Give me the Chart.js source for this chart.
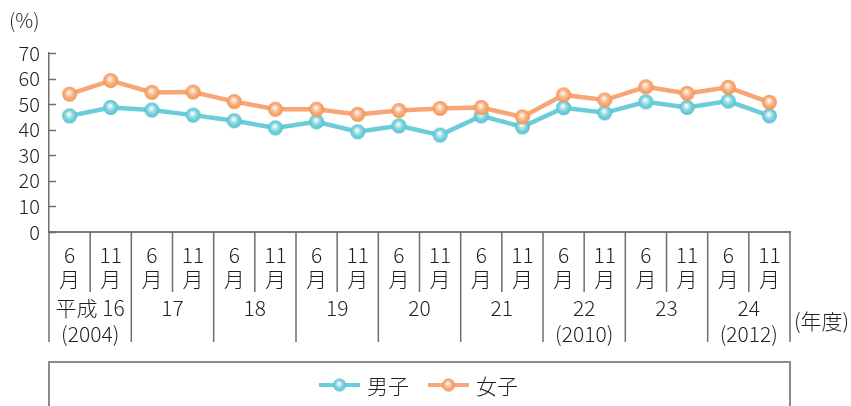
<!DOCTYPE html>
<html>
<head>
<meta charset="utf-8">
<script src="https://cdn.jsdelivr.net/npm/chart.js@4.4.1/dist/chart.umd.min.js"></script>
<style>
  html, body { margin: 0; padding: 0; background: #fff; }
  #wrap { width: 851px; height: 406px; }
</style>
</head>
<body>
<div id="wrap"><canvas id="chart" width="851" height="406"></canvas></div>
<script>
const categories = ["6月", "11月", "6月", "11月", "6月", "11月", "6月", "11月", "6月",
  "11月", "6月", "11月", "6月", "11月", "6月", "11月", "6月", "11月"]
const monthLabels = ["6", "11"]
const yearLabels = [["平成 16", "(2004)"], ["17"], ["18"], ["19"], ["20"], ["21"], ["22", "(2010)"], ["23"], ["24", "(2012)"]]
const maleValues = [45.4, 48.7, 47.7, 45.7, 43.5, 40.7, 43.1, 39.2, 41.5, 37.9, 45.4, 41.1, 48.6, 46.6, 50.9, 48.7, 51.2, 45.4]
const femaleValues = [53.9, 59.2, 54.6, 54.7, 51.0, 48.0, 48.0, 46.0, 47.5, 48.3, 48.7, 45.0, 53.6, 51.6, 56.8, 54.2, 56.6, 50.7]
const seriesNames = ["男子", "女子"]
const yMax = 70
const yStep = 10

const FONT = '"Noto Sans CJK JP", "Noto Sans", sans-serif'
const TEXT = "#231f20"
const LINE_GREY = "#6d6e70"

const blue = { line: "#6ccdd9", rim: "#4fbfcf", mid: "#8fd8e2", hi: "#f4fcfd" }
const orange = { line: "#f8a676", rim: "#f3914f", mid: "#f9b88f", hi: "#fff4ec" }

function ball(c, r) {
  const size = Math.ceil(r * 2 + 2)
  const cv = document.createElement("canvas")
  cv.width = size
  cv.height = size
  const g = cv.getContext("2d")
  const cx = size / 2, cy = size / 2
  const grad = g.createRadialGradient(cx - r * 0.1, cy - r * 0.25, r * 0.1, cx, cy, r)
  grad.addColorStop(0, c.hi)
  grad.addColorStop(0.45, c.mid)
  grad.addColorStop(1, c.rim)
  g.fillStyle = grad
  g.beginPath()
  g.arc(cx, cy, r, 0, Math.PI * 2)
  g.fill()
  return cv
}

const tablePlugin = {
  id: "tablePlugin",
  afterDraw(chart) {
    const { ctx, chartArea } = chart
    const x = chart.scales.x
    const y = chart.scales.y
    const bottom = chartArea.bottom
    const px = i => x.getPixelForValue(i)
    ctx.save()

    // inward y ticks
    ctx.strokeStyle = LINE_GREY
    ctx.lineWidth = 1.5
    for (let v = 0; v <= yMax; v += yStep) {
      const py = Math.round(y.getPixelForValue(v)) + 0.5
      ctx.beginPath()
      ctx.moveTo(chartArea.left, py)
      ctx.lineTo(chartArea.left + 7, py)
      ctx.stroke()
    }

    // separators
    const monthBottom = bottom + 60
    const yearBottom = bottom + 110
    for (let i = 0; i <= categories.length; i++) {
      let sx
      if (i === 0) sx = chartArea.left
      else if (i === categories.length) sx = chartArea.right
      else sx = (px(i - 1) + px(i)) / 2
      const isYear = i % 2 === 0
      ctx.beginPath()
      ctx.moveTo(sx, bottom)
      ctx.lineTo(sx, isYear ? yearBottom : monthBottom)
      ctx.stroke()
    }

    // month labels
    ctx.fillStyle = TEXT
    ctx.textAlign = "center"
    ctx.textBaseline = "middle"
    ctx.font = `300 21px ${FONT}`
    categories.forEach((c, i) => {
      ctx.fillText(monthLabels[i % 2], px(i), bottom + 23)
      ctx.fillText("月", px(i), bottom + 47)
    })

    // year labels
    yearLabels.forEach((lines, j) => {
      const cx = (px(j * 2) + px(j * 2 + 1)) / 2
      lines.forEach((t, k) => ctx.fillText(t, cx, bottom + 76 + k * 26))
    })

    ctx.textAlign = "left"
    ctx.fillText("(年度)", chartArea.right + 4, bottom + 89)
    ctx.font = `300 20px ${FONT}`
    ctx.fillText("(%)", 9, 20)

    // legend box
    ctx.strokeStyle = "#8a8a8a"
    ctx.lineWidth = 2
    ctx.beginPath()
    ctx.moveTo(chartArea.left, 420)
    ctx.lineTo(chartArea.left, 362)
    ctx.lineTo(chartArea.right, 362)
    ctx.lineTo(chartArea.right, 420)
    ctx.stroke()

    const legendItems = [
      { name: seriesNames[0], c: blue, x0: 319 },
      { name: seriesNames[1], c: orange, x0: 428 }
    ]
    const ly = 385
    ctx.font = `300 21px ${FONT}`
    legendItems.forEach(it => {
      ctx.strokeStyle = it.c.line
      ctx.lineWidth = 4
      ctx.beginPath()
      ctx.moveTo(it.x0, ly)
      ctx.lineTo(it.x0 + 41, ly)
      ctx.stroke()
      const b = ball(it.c, 6.5)
      ctx.drawImage(b, it.x0 + 20.5 - b.width / 2, ly - b.height / 2)
      ctx.fillStyle = TEXT
      ctx.fillText(it.name, it.x0 + 48, ly + 1)
    })

    ctx.restore()
  }
}

new Chart(document.getElementById("chart"), {
  type: "line",
  data: {
    labels: categories,
    datasets: [
      {
        label: seriesNames[0],
        data: maleValues,
        borderColor: blue.line,
        borderWidth: 4.5,
        pointStyle: ball(blue, 7.5),
        order: 1
      },
      {
        label: seriesNames[1],
        data: femaleValues,
        borderColor: orange.line,
        borderWidth: 4.5,
        pointStyle: ball(orange, 7.5),
        order: 0
      }
    ]
  },
  options: {
    responsive: false,
    animation: false,
    devicePixelRatio: 1,
    layout: { padding: { top: 53, right: 61, bottom: 0, left: 0 } },
    elements: { line: { tension: 0 } },
    scales: {
      x: {
        offset: true,
        grid: { display: false, drawTicks: false },
        border: { display: true, color: "#7a7a7a", width: 2 },
        ticks: { display: false },
        afterFit(scale) { scale.height = 174 }
      },
      y: {
        min: 0,
        max: yMax,
        grid: { display: false, drawTicks: false },
        border: { display: true, color: LINE_GREY, width: 1.5 },
        ticks: {
          stepSize: yStep,
          autoSkip: false,
          padding: 9,
          color: TEXT,
          font: { family: FONT, size: 20, weight: "300" }
        },
        afterFit(scale) { scale.width = 49 }
      }
    },
    plugins: {
      legend: { display: false },
      tooltip: { enabled: false }
    }
  },
  plugins: [tablePlugin]
})
</script>
</body>
</html>
